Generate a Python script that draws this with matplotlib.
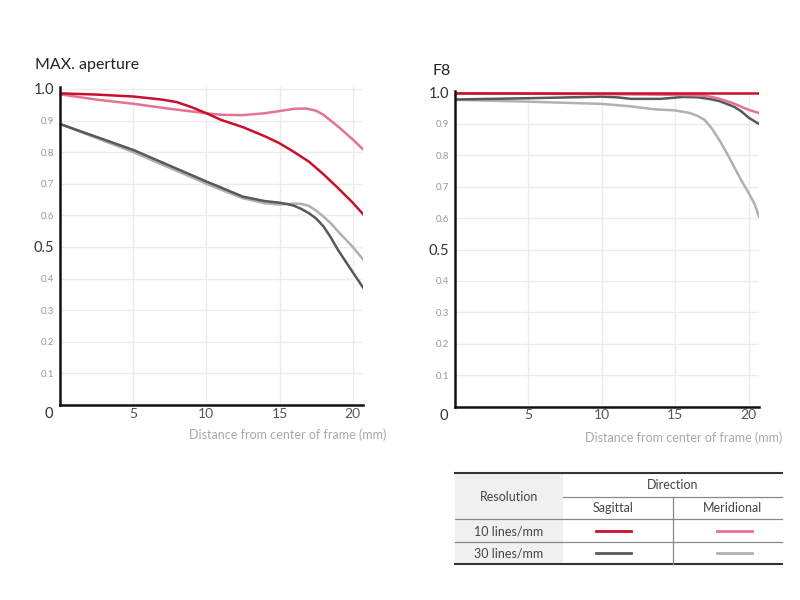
import matplotlib.pyplot as plt
from matplotlib.patches import Rectangle

plt.rcParams['font.family'] = ['Lato', 'DejaVu Sans']

# --- data (x in mm from center, MTF value) ---
max_x_sag10 = [0, 2.5, 5, 7, 8, 9, 10, 11, 12.5, 14, 15, 16, 17, 18, 19, 20, 20.7]
max_sag10 = [0.986, 0.982, 0.976, 0.966, 0.958, 0.942, 0.923, 0.902, 0.879, 0.85,
             0.828, 0.80, 0.77, 0.73, 0.686, 0.64, 0.604]
max_x_mer10 = [0, 2.5, 5, 7.5, 10, 11, 12.5, 14, 15, 16, 16.8, 17.5, 18, 19, 20, 20.7]
max_mer10 = [0.983, 0.966, 0.953, 0.937, 0.923, 0.918, 0.917, 0.923, 0.930, 0.937,
             0.938, 0.931, 0.918, 0.881, 0.84, 0.809]
max_x_sag30 = [0, 5, 10, 11, 12.5, 14, 15, 15.5, 16, 16.5, 17, 17.5, 18, 18.5, 19, 20, 20.7]
max_sag30 = [0.889, 0.807, 0.707, 0.688, 0.659, 0.645, 0.640, 0.636, 0.630, 0.620,
             0.607, 0.59, 0.565, 0.53, 0.49, 0.42, 0.372]
max_x_mer30 = [0, 5, 10, 11, 12.5, 14, 15, 16, 16.5, 17, 17.5, 18, 18.5, 19, 20, 20.7]
max_mer30 = [0.889, 0.800, 0.700, 0.681, 0.654, 0.638, 0.634, 0.637, 0.636, 0.630,
             0.615, 0.596, 0.575, 0.549, 0.50, 0.461]

f8_x_sag10 = [0, 20.7]
f8_sag10 = [1.0, 1.0]
f8_x_mer10 = [0, 10, 15, 17, 17.5, 18, 18.5, 19, 19.5, 20, 20.7]
f8_mer10 = [0.998, 0.995, 0.993, 0.99, 0.986, 0.98, 0.973, 0.965, 0.955, 0.945, 0.935]
f8_x_sag30 = [0, 5, 10, 11, 12, 14, 15, 15.5, 16.5, 17, 17.5, 18, 19, 19.5, 20, 20.7]
f8_sag30 = [0.978, 0.982, 0.987, 0.985, 0.980, 0.980, 0.984, 0.986, 0.985, 0.982,
            0.978, 0.973, 0.955, 0.94, 0.92, 0.90]
f8_x_mer30 = [0, 5, 10, 12, 13.5, 15, 16, 16.5, 17, 17.5, 18, 18.5, 19, 19.5, 20, 20.4, 20.7]
f8_mer30 = [0.977, 0.971, 0.964, 0.956, 0.947, 0.943, 0.935, 0.926, 0.913, 0.885,
            0.849, 0.808, 0.764, 0.72, 0.68, 0.645, 0.605]

x_ticks = [5, 10, 15, 20]
y_ticks = [0.1, 0.2, 0.3, 0.4, 0.5, 0.6, 0.7, 0.8, 0.9, 1.0]

rows = ['10 lines/mm', '30 lines/mm']
cols = ['Sagittal', 'Meridional']

C_SAG10 = '#c8102e'
C_MER10 = '#e3738f'
C_SAG30 = '#585858'
C_MER30 = '#b0b0b0'

fig = plt.figure(figsize=(8, 6), dpi=100)


def px(x, y):
    """pixel position -> figure fraction"""
    return x / 800, 1 - y / 600


def style_axes(ax, title, title_xy, xlabel_xy, zero_xy):
    ax.set_xlim(0, 20.7)
    ax.set_ylim(0, 1.006)
    for s in ['top', 'right']:
        ax.spines[s].set_visible(False)
    for s in ['left', 'bottom']:
        ax.spines[s].set_color('#111111')
        ax.spines[s].set_linewidth(1.8)
    ax.set_xticks(x_ticks)
    ax.set_yticks(y_ticks)
    ax.grid(True, color='#ececec', lw=1.0)
    ax.set_axisbelow(True)
    ax.tick_params(axis='x', length=0, pad=2)
    ax.tick_params(axis='y', length=0, pad=4)
    ax.set_xticklabels([str(t) for t in x_ticks], fontsize=10, color='#555555')
    ax.set_yticklabels([f'{t:.1f}' for t in y_ticks])
    for lab, t in zip(ax.get_yticklabels(), y_ticks):
        if t in (0.5, 1.0):
            lab.set_fontsize(10.5)
            lab.set_color('#333333')
        else:
            lab.set_fontsize(7)
            lab.set_color('#999999')
    fig.text(*px(*zero_xy), '0', ha='center', va='center', fontsize=10.5, color='#333333')
    fig.text(*px(*title_xy), title, fontsize=11.5, color='#222222', ha='left', va='center')
    fig.text(*px(*xlabel_xy), 'Distance from center of frame (mm)', fontsize=9,
             color='#a8a8a8', ha='right', va='center')


ax1 = fig.add_axes([60 / 800, 1 - 405 / 600, 303 / 800, 318 / 600])
ax1.plot(max_x_mer30, max_mer30, color=C_MER30, lw=1.8)
ax1.plot(max_x_sag30, max_sag30, color=C_SAG30, lw=1.8)
ax1.plot(max_x_mer10, max_mer10, color=C_MER10, lw=1.8)
ax1.plot(max_x_sag10, max_sag10, color=C_SAG10, lw=1.8)
style_axes(ax1, 'MAX. aperture', (35, 65), (386, 435), (49, 414))

ax2 = fig.add_axes([455 / 800, 1 - 406.5 / 600, 304 / 800, 315.8 / 600])
ax2.plot(f8_x_mer30, f8_mer30, color=C_MER30, lw=1.8)
ax2.plot(f8_x_sag30, f8_sag30, color=C_SAG30, lw=1.8)
ax2.plot(f8_x_mer10, f8_mer10, color=C_MER10, lw=1.8)
ax2.plot(f8_x_sag10, f8_sag10, color=C_SAG10, lw=1.8)
style_axes(ax2, 'F8', (432, 71), (782, 438), (444, 416))

# --- legend table, drawn in pixel space ---
tb = fig.add_axes([0, 0, 1, 1], zorder=-1)
tb.set_xlim(0, 800)
tb.set_ylim(600, 0)
tb.axis('off')
tb.add_patch(Rectangle((455, 473), 108, 91, color='#f0f0f0', lw=0))
tb.plot([455, 782], [473, 473], color='#333333', lw=1.5)
tb.plot([563, 782], [497, 497], color='#888888', lw=0.9)
tb.plot([455, 782], [519, 519], color='#888888', lw=0.9)
tb.plot([455, 782], [542, 542], color='#888888', lw=0.9)
tb.plot([455, 782], [564, 564], color='#333333', lw=1.5)
tb.plot([673, 673], [497, 564], color='#888888', lw=0.9)

txt = dict(fontsize=9, color='#444444', ha='center', va='center')
tb.text(673, 485, 'Direction', **txt)
tb.text(509, 497, 'Resolution', **txt)
tb.text(613, 508, cols[0], **txt)
tb.text(733, 508, cols[1], **txt)
tb.text(509, 531, rows[0], **txt)
tb.text(509, 553, rows[1], **txt)
tb.plot([596, 631], [531, 531], color=C_SAG10, lw=2)
tb.plot([717, 752], [531, 531], color=C_MER10, lw=2)
tb.plot([596, 631], [553, 553], color=C_SAG30, lw=2)
tb.plot([717, 752], [553, 553], color=C_MER30, lw=2)

fig.savefig('out.png', dpi=100)
